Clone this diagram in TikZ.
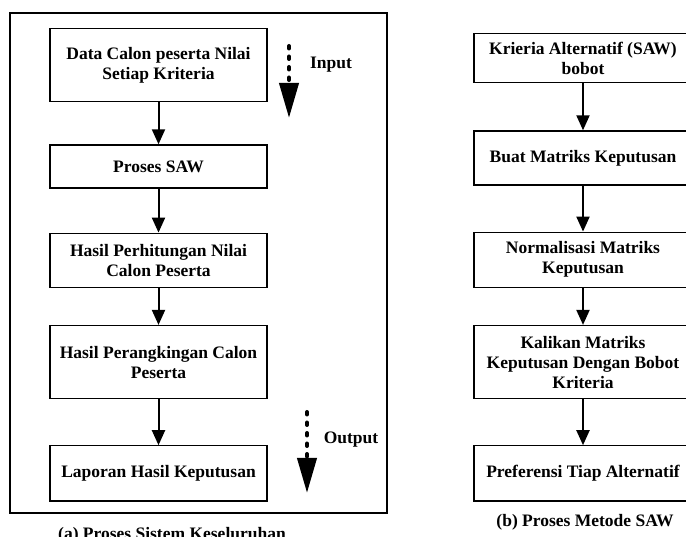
\documentclass[tikz,border=0pt]{standalone}
\usepackage{fontspec}
\setmainfont{Liberation Serif}
\usetikzlibrary{positioning, arrows.meta}
\tikzset{x=1pt, y=-1pt, >={Triangle[width=13pt,length=15pt]},
	proc/.style={draw, line width=1.3pt, minimum width=217pt, inner sep=0pt, align=center, font=\fontsize{17.5}{20}\selectfont\bfseries},
	flow/.style={->, line width=2pt},
	dotflow/.style={line width=4pt, line cap=round, dash pattern=on 2.5pt off 8pt, -{Triangle[width=19pt,length=35pt]}},
	tag/.style={font=\fontsize{17.5}{20}\selectfont\bfseries},
	caption/.style={font=\fontsize{17.5}{20}\selectfont\bfseries}}

\begin{document}
\begin{tikzpicture}
	\useasboundingbox (0,0) rectangle (686,537);
	% (a) proses sistem
	\draw[line width=2.3pt] (10,13) rectangle (387,513);
	\node[proc, anchor=north, minimum height=73pt] (data) at (158.5,28) {Data Calon peserta Nilai\\Setiap Kriteria};
	\node[proc, below=42pt of data, minimum height=43pt] (saw) {Proses SAW};
	\node[proc, below=44pt of saw, minimum height=54pt] (hitung) {Hasil Perhitungan Nilai\\Calon Peserta};
	\node[proc, below=37pt of hitung, minimum height=73pt] (rangking) {Hasil Perangkingan Calon\\Peserta};
	\node[proc, below=46pt of rangking, minimum height=55pt] (laporan) {Laporan Hasil Keputusan};
	\draw[flow] (data) -- (saw);
	\draw[flow] (saw) -- (hitung);
	\draw[flow] (hitung) -- (rangking);
	\draw[flow] (rangking) -- (laporan);
	\coordinate (inA) at (289,46);
	\coordinate (inB) at (289,118);
	\coordinate (outA) at (307,412);
	\coordinate (outB) at (307,493);
	\draw[dotflow] (inA) -- (inB);
	\draw[dotflow] (outA) -- (outB);
	\node[tag] (input) at (331,65) {Input};
	\node[tag] (output) at (351,440) {Output};
	\node[caption] (capA) at (172,535) {(a) Proses Sistem Keseluruhan};
	% (b) proses metode saw
	\node[proc, anchor=north, minimum width=218pt, minimum height=49pt] (kriteria) at (583,33) {Krieria Alternatif (SAW)\\bobot};
	\node[proc, below=47pt of kriteria, minimum width=218pt, minimum height=54pt] (matriks) {Buat Matriks Keputusan};
	\node[proc, below=46pt of matriks, minimum width=218pt, minimum height=55pt] (normal) {Normalisasi Matriks\\Keputusan};
	\node[proc, below=37pt of normal, minimum width=218pt, minimum height=73pt] (kali) {Kalikan Matriks\\Keputusan Dengan Bobot\\Kriteria};
	\node[proc, below=46pt of kali, minimum width=218pt, minimum height=55pt] (pref) {Preferensi Tiap Alternatif};
	\draw[flow] (kriteria) -- (matriks);
	\draw[flow] (matriks) -- (normal);
	\draw[flow] (normal) -- (kali);
	\draw[flow] (kali) -- (pref);
	\node[caption] (capB) at (585,522) {(b) Proses Metode SAW};
\end{tikzpicture}
\end{document}
